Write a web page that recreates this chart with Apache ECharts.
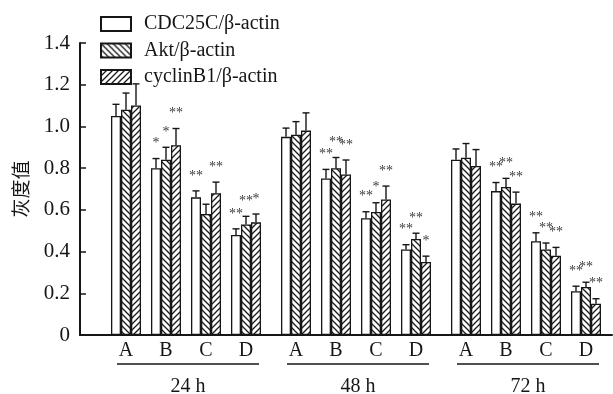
<!DOCTYPE html>
<html><head><meta charset="utf-8">
<script src="https://cdn.jsdelivr.net/npm/echarts@6/dist/echarts.min.js"></script>
<style>html,body{margin:0;padding:0;background:#fff}#c{width:613px;height:394px}</style>
</head><body><div id="c"></div>
<script>
// ---------- data ----------
const groups = ['24 h', '48 h', '72 h'];
const subgroups = ['A', 'B', 'C', 'D'];
const seriesNames = ['CDC25C/β-actin', 'Akt/β-actin', 'cyclinB1/β-actin'];
const cdc25c      = [1.05, 0.80, 0.66, 0.48,  0.95, 0.75, 0.56, 0.41,  0.84, 0.69, 0.45, 0.21];
const cdc25cErr   = [0.056, 0.046, 0.031, 0.029,  0.042, 0.044, 0.031, 0.023,  0.052, 0.041, 0.040, 0.024];
const akt         = [1.08, 0.84, 0.58, 0.53,  0.96, 0.80, 0.59, 0.46,  0.85, 0.71, 0.41, 0.23];
const aktErr      = [0.080, 0.060, 0.047, 0.039,  0.063, 0.051, 0.044, 0.028,  0.068, 0.041, 0.031, 0.023];
const cyclinB1    = [1.10, 0.91, 0.68, 0.54,  0.98, 0.77, 0.65, 0.35,  0.81, 0.63, 0.38, 0.15];
const cyclinB1Err = [0.104, 0.080, 0.053, 0.040,  0.085, 0.069, 0.064, 0.028,  0.079, 0.055, 0.040, 0.024];
const cdc25cSig   = ['', '*', '**', '**',  '', '**', '**', '**',  '', '**', '**', '**'];
const aktSig      = ['', '*', '', '**',  '', '**', '*', '**',  '', '**', '**', '**'];
const cyclinB1Sig = ['', '**', '**', '*',  '', '**', '**', '*',  '', '**', '**', '**'];
const yTickLabels = ['0', '0.2', '0.4', '0.6', '0.8', '1.0', '1.2', '1.4'];
const yAxisName = '灰度值';

// ---------- layout / style constants ----------
const GROUP_STRIDE = 4.25;   // subgroup slots per time group (incl. gap)
const BAR_W = 10;
const SERIF = 'Liberation Serif';
const INK = '#161616';

const values = [cdc25c, akt, cyclinB1];
const errs = [cdc25cErr, aktErr, cyclinB1Err];
const sigs = [cdc25cSig, aktSig, cyclinB1Sig];

const xPos = [];
groups.forEach((g, gi) => subgroups.forEach((s, si) => xPos.push(gi * GROUP_STRIDE + si)));

function hatch(dir) {
  const s = 6, c = document.createElement('canvas');
  c.width = c.height = s;
  const g = c.getContext('2d');
  g.fillStyle = '#fff'; g.fillRect(0, 0, s, s);
  g.strokeStyle = '#1a1a1a'; g.lineWidth = 1.3;
  g.beginPath();
  if (dir === 'back') {
    g.moveTo(-1, -1); g.lineTo(s + 1, s + 1);
    g.moveTo(-1, s - 1); g.lineTo(1, s + 1);
    g.moveTo(s - 1, -1); g.lineTo(s + 1, 1);
  } else {
    g.moveTo(-1, s + 1); g.lineTo(s + 1, -1);
    g.moveTo(-1, 1); g.lineTo(1, -1);
    g.moveTo(s - 1, s + 1); g.lineTo(s + 1, s - 1);
  }
  g.stroke();
  return c;
}
const fills = ['#ffffff', { image: hatch('back'), repeat: 'repeat' }, { image: hatch('fwd'), repeat: 'repeat' }];

const barSeries = seriesNames.map((name, k) => ({
  name, type: 'bar', barWidth: BAR_W, barGap: '0%',
  data: xPos.map((x, i) => [x, values[k][i]]),
  itemStyle: { color: fills[k], borderColor: INK, borderWidth: 1.3 },
  emphasis: { disabled: true },
  z: 2
}));

const errItems = [];
seriesNames.forEach((n, k) => xPos.forEach((x, i) => errItems.push({ value: [x, values[k][i], errs[k][i], k], sig: sigs[k][i] })));

const errSeries = {
  type: 'custom', name: 'err', z: 5, silent: true,
  data: errItems.map(d => d.value),
  renderItem(params, api) {
    const x = api.value(0), v = api.value(1), e = api.value(2), k = api.value(3);
    const top = api.coord([x, v]);
    const cap = api.coord([x, v + e]);
    const cx = top[0] + (k - 1) * BAR_W;
    const st = { stroke: INK, lineWidth: 1.4 };
    const ch = [
      { type: 'line', shape: { x1: cx, y1: top[1], x2: cx, y2: cap[1] }, style: st },
      { type: 'line', shape: { x1: cx - 3.5, y1: cap[1], x2: cx + 3.5, y2: cap[1] }, style: st }
    ];
    const sig = errItems[params.dataIndex].sig;
    if (sig) ch.push({ type: 'text', x: cx, y: cap[1] - 15,
      style: { text: sig, fill: '#3a3a3a', font: '14px "' + SERIF + '"', align: 'center', verticalAlign: 'middle' } });
    return { type: 'group', children: ch };
  }
};

const catSeries = {
  type: 'custom', name: 'cats', silent: true, z: 6,
  data: xPos.map((x) => [x, 0]),
  renderItem(params, api) {
    const p = api.coord([api.value(0), 0]);
    return { type: 'text', x: p[0], y: p[1] + 16,
      style: { text: subgroups[params.dataIndex % subgroups.length], fill: INK,
        font: '20px "' + SERIF + '"', align: 'center', verticalAlign: 'middle' } };
  }
};

const groupSeries = {
  type: 'custom', name: 'groups', silent: true, z: 6,
  data: groups.map((g, gi) => [gi * GROUP_STRIDE, 0, gi * GROUP_STRIDE + subgroups.length - 1]),
  renderItem(params, api) {
    const a = api.coord([api.value(0), 0]);
    const b = api.coord([api.value(2), 0]);
    const mid = (a[0] + b[0]) / 2 + 2;
    return { type: 'group', children: [
      { type: 'line', shape: { x1: mid - 71, y1: a[1] + 29, x2: mid + 71, y2: a[1] + 29 }, style: { stroke: INK, lineWidth: 1.3 } },
      { type: 'text', x: mid, y: a[1] + 52, style: { text: groups[params.dataIndex], fill: INK,
        font: '20px "' + SERIF + '"', align: 'center', verticalAlign: 'middle' } }
    ] };
  }
};

const chart = echarts.init(document.getElementById('c'), null, { renderer: 'canvas' });
chart.setOption({
  backgroundColor: '#fff',
  animation: false,
  grid: { left: 80, right: 1, top: 43, bottom: 59, containLabel: false, outerBoundsMode: 'none' },
  legend: {
    data: seriesNames, orient: 'vertical', left: 100, top: 14, padding: 0,
    itemWidth: 30, itemHeight: 14, itemGap: 6.5, icon: 'rect',
    textStyle: { fontFamily: SERIF, fontSize: 20, color: INK, padding: [0, 0, 0, 8] },
    selectedMode: false
  },
  xAxis: {
    type: 'value', min: -1.15, max: 12.15,
    axisLine: { show: true, onZero: false, lineStyle: { color: INK, width: 2 } },
    axisTick: { show: false }, axisLabel: { show: false }, splitLine: { show: false }
  },
  yAxis: {
    type: 'value', min: 0, max: 1.4, interval: 0.2,
    name: yAxisName, nameLocation: 'middle', nameRotate: 90, nameGap: 50, nameMoveOverlap: false,
    nameTextStyle: { fontFamily: 'Noto Sans CJK SC', fontSize: 19, color: INK },
    axisLine: { show: true, onZero: false, lineStyle: { color: INK, width: 2 } },
    axisTick: { show: true, inside: true, length: 6, lineStyle: { color: INK, width: 1.5 } },
    axisLabel: { margin: 10, fontFamily: SERIF, fontSize: 21, color: INK,
      formatter: (v) => yTickLabels[Math.round(v / 0.2)] },
    splitLine: { show: false }
  },
  series: [...barSeries, errSeries, catSeries, groupSeries]
});
</script></body></html>
